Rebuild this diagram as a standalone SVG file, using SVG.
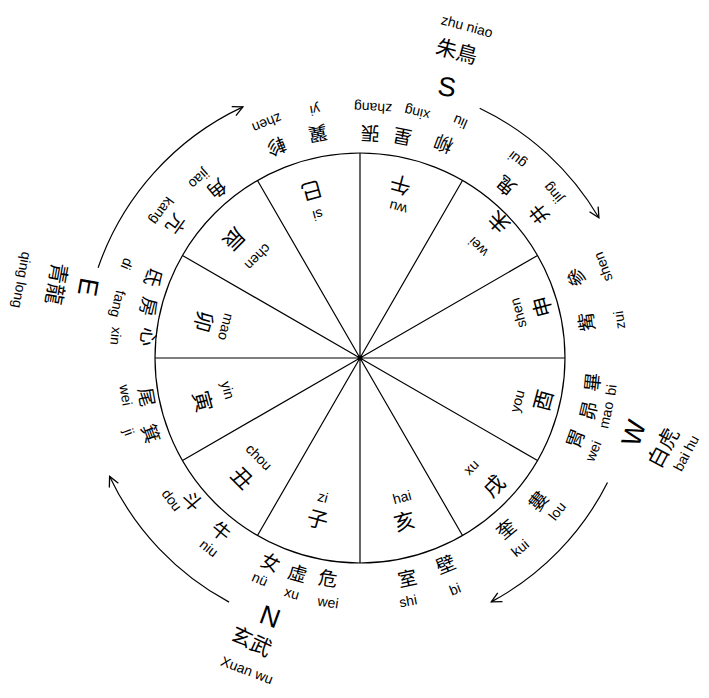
<svg xmlns="http://www.w3.org/2000/svg" width="709" height="698" viewBox="0 0 709 698">
<style>
.bg{fill:#fff}
.ln{stroke:#000;stroke-width:1.2;fill:none}
.arc{stroke:#000;stroke-width:1.2;fill:none}
text{text-anchor:middle;dominant-baseline:central;fill:#000}
.py{font-family:"Liberation Sans","DejaVu Sans",sans-serif;font-size:14px}
.hz{font-family:"Noto Sans CJK TC","Noto Sans CJK SC",sans-serif;font-size:21px}
.hr{font-family:"Noto Sans CJK TC","Noto Sans CJK SC",sans-serif;font-size:19px}
.cp{font-family:"Liberation Sans","DejaVu Sans",sans-serif;font-size:27px}
.cn{font-family:"Noto Sans CJK TC","Noto Sans CJK SC",sans-serif;font-size:21px}
</style>
<defs>
<marker id="ah" viewBox="0 0 12 12" refX="11" refY="6" markerWidth="12" markerHeight="12" markerUnits="userSpaceOnUse" orient="auto">
<path d="M1,1 L11,6 L1,11" fill="none" stroke="#000" stroke-width="1.3"/>
</marker>
</defs>
<rect class="bg" width="709" height="698"/>
<g id="wheel">
<circle class="ln" cx="360" cy="358" r="205"/>
<path class="ln" d="M360,358 L565,358 M360,358 L537.5,460.5 M360,358 L462.5,535.5 M360,358 L360,563 M360,358 L257.5,535.5 M360,358 L182.5,460.5 M360,358 L155,358 M360,358 L182.5,255.5 M360,358 L257.5,180.5 M360,358 L360,153 M360,358 L462.5,180.5 M360,358 L537.5,255.5"/>
<circle cx="360" cy="358" r="2.2" fill="#000"/>
</g>
<g id="branches">
<g id="b-you"><text class="py" transform="translate(517 401) rotate(-75)">you</text><text class="hz" transform="translate(542 400) rotate(-75)">酉</text></g>
<g id="b-xu"><text class="py" transform="translate(471 467) rotate(-45)">xu</text><text class="hz" transform="translate(493 485) rotate(-45)">戌</text></g>
<g id="b-hai"><text class="py" transform="translate(402 497) rotate(-15)">hai</text><text class="hz" transform="translate(404 520) rotate(-15)">亥</text></g>
<g id="b-zi"><text class="py" transform="translate(323 497) rotate(15)">zi</text><text class="hz" transform="translate(318 518) rotate(15)">子</text></g>
<g id="b-chou"><text class="py" transform="translate(259 457) rotate(45)">chou</text><text class="hz" transform="translate(243 477) rotate(45)">丑</text></g>
<g id="b-yin"><text class="py" transform="translate(228 390) rotate(75)">yin</text><text class="hz" transform="translate(204 401) rotate(75)">寅</text></g>
<g id="b-mao"><text class="py" transform="translate(226 327) rotate(105)">mao</text><text class="hz" transform="translate(205 322) rotate(105)">卯</text></g>
<g id="b-chen"><text class="py" transform="translate(258 257) rotate(135)">chen</text><text class="hz" transform="translate(235 240) rotate(135)">辰</text></g>
<g id="b-si"><text class="py" transform="translate(318 215) rotate(165)">si</text><text class="hz" transform="translate(312 192) rotate(165)">巳</text></g>
<g id="b-wu"><text class="py" transform="translate(398 208) rotate(195)">wu</text><text class="hz" transform="translate(400 186) rotate(195)">午</text></g>
<g id="b-wei"><text class="py" transform="translate(478 247) rotate(225)">wei</text><text class="hz" transform="translate(498 223) rotate(225)">未</text></g>
<g id="b-shen"><text class="py" transform="translate(518 313) rotate(255)">shen</text><text class="hz" transform="translate(541 307) rotate(255)">申</text></g>
</g>
<g id="mansions">
<g id="m-zhen"><text class="hr" transform="translate(277 148) rotate(158)">軫</text><text class="py" transform="translate(267 123) rotate(158)">zhen</text></g>
<g id="m-yi"><text class="hr" transform="translate(318 135) rotate(169)">翼</text><text class="py" transform="translate(315 110) rotate(170)">yi</text></g>
<g id="m-zhang"><text class="hr" transform="translate(370 135) rotate(183)">張</text><text class="py" transform="translate(373 108) rotate(183)">zhang</text></g>
<g id="m-xing"><text class="hr" transform="translate(402 138) rotate(191)">星</text><text class="py" transform="translate(417 113) rotate(193)">xing</text></g>
<g id="m-liu"><text class="hr" transform="translate(443 145) rotate(201)">柳</text><text class="py" transform="translate(460 122) rotate(203)">liu</text></g>
<g id="m-gui"><text class="hr" transform="translate(505 187) rotate(220)">鬼</text><text class="py" transform="translate(517 160) rotate(218)">gui</text></g>
<g id="m-jing"><text class="hr" transform="translate(538 215) rotate(231)">井</text><text class="py" transform="translate(553 193) rotate(230)">jing</text></g>
<g id="m-shen"><text class="hr" transform="translate(575 278) rotate(249)">參</text><text class="py" transform="translate(603 267) rotate(249)">shen</text></g>
<g id="m-zui"><text class="hr" transform="translate(585 322) rotate(262)">觜</text><text class="py" transform="translate(619 320) rotate(262)">zui</text></g>
<g id="m-bi2"><text class="hr" transform="translate(591 382) rotate(-84)">畢</text><text class="py" transform="translate(611 390) rotate(-83)">bi</text></g>
<g id="m-mao"><text class="hr" transform="translate(587 410) rotate(-77)">昴</text><text class="py" transform="translate(606 415) rotate(-78)">mao</text></g>
<g id="m-wei2"><text class="hr" transform="translate(574 438) rotate(-70)">胃</text><text class="py" transform="translate(593 451) rotate(-68)">wei</text></g>
<g id="m-lou"><text class="hr" transform="translate(537 500) rotate(-51)">婁</text><text class="py" transform="translate(557 511) rotate(-52)">lou</text></g>
<g id="m-kui"><text class="hr" transform="translate(505 528) rotate(-40)">奎</text><text class="py" transform="translate(520 548) rotate(-40)">kui</text></g>
<g id="m-bi"><text class="hr" transform="translate(445 563) rotate(-22)">壁</text><text class="py" transform="translate(455 589) rotate(-22)">bi</text></g>
<g id="m-shi"><text class="hr" transform="translate(407 577) rotate(-12)">室</text><text class="py" transform="translate(408 601) rotate(-11)">shi</text></g>
<g id="m-wei3"><text class="hr" transform="translate(328 577) rotate(8)">危</text><text class="py" transform="translate(328 602) rotate(8)">wei</text></g>
<g id="m-xu"><text class="hr" transform="translate(298 572) rotate(16)">虛</text><text class="py" transform="translate(292 593) rotate(16)">xu</text></g>
<g id="m-nu"><text class="hr" transform="translate(271 561) rotate(23)">女</text><text class="py" transform="translate(260 579) rotate(24)">nü</text></g>
<g id="m-niu"><text class="hr" transform="translate(222 530) rotate(39)">牛</text><text class="py" transform="translate(209 548) rotate(38)">niu</text></g>
<g id="m-dou"><text class="hr" transform="translate(193 500) rotate(50)">斗</text><text class="py" transform="translate(172 500) rotate(53)">dou</text></g>
<g id="m-ji"><text class="hr" transform="translate(152 433) rotate(70)">箕</text><text class="py" transform="translate(129 432) rotate(70)">ji</text></g>
<g id="m-wei"><text class="hr" transform="translate(148 397) rotate(80)">尾</text><text class="py" transform="translate(126 395) rotate(80)">wei</text></g>
<g id="m-xin"><text class="hr" transform="translate(150 337) rotate(96)">心</text><text class="py" transform="translate(116 336) rotate(96)">xin</text></g>
<g id="m-fang"><text class="hr" transform="translate(150 307) rotate(104)">房</text><text class="py" transform="translate(118 304) rotate(103)">fang</text></g>
<g id="m-di"><text class="hr" transform="translate(155 278) rotate(111)">氐</text><text class="py" transform="translate(127 264) rotate(112)">di</text></g>
<g id="m-kang"><text class="hr" transform="translate(177 225) rotate(126)">亢</text><text class="py" transform="translate(162 211) rotate(126)">kang</text></g>
<g id="m-jiao"><text class="hr" transform="translate(218 190) rotate(140)">角</text><text class="py" transform="translate(199 179) rotate(138)">jiao</text></g>
</g>
<g id="south"><text class="cp" transform="translate(447 87) rotate(8)">S</text><text class="cn" transform="translate(457 50) rotate(15)">朱鳥</text><text class="py" transform="translate(467 26) rotate(15)">zhu niao</text></g>
<g id="east"><text class="cp" transform="translate(88 287) rotate(100)">E</text><text class="cn" transform="translate(58 284) rotate(100)">青龍</text><text class="py" transform="translate(22 280) rotate(100)">qing long</text></g>
<g id="west"><text class="cp" transform="translate(634 433) rotate(-72)">W</text><text class="cn" transform="translate(662 447) rotate(-62)">白虎</text><text class="py" transform="translate(686 453) rotate(-62)">bai hu</text></g>
<g id="north"><text class="cp" transform="translate(270 617) rotate(20)">N</text><text class="cn" transform="translate(252 640) rotate(25)">玄武</text><text class="py" transform="translate(247 670) rotate(21)">Xuan wu</text></g>
<g id="connectors">
<path class="arc" marker-end="url(#ah)" d="M98.1,267.8 A277,277 0 0 1 242.9,106.9"/>
<path class="arc" marker-end="url(#ah)" d="M479.7,108.2 A277,277 0 0 1 598.9,217.8"/>
<path class="arc" marker-end="url(#ah)" d="M607.5,482.5 A277,277 0 0 1 491.3,601.9"/>
<path class="arc" marker-end="url(#ah)" d="M229.1,602.1 A277,277 0 0 1 109.6,476.4"/>
</g>
</svg>
